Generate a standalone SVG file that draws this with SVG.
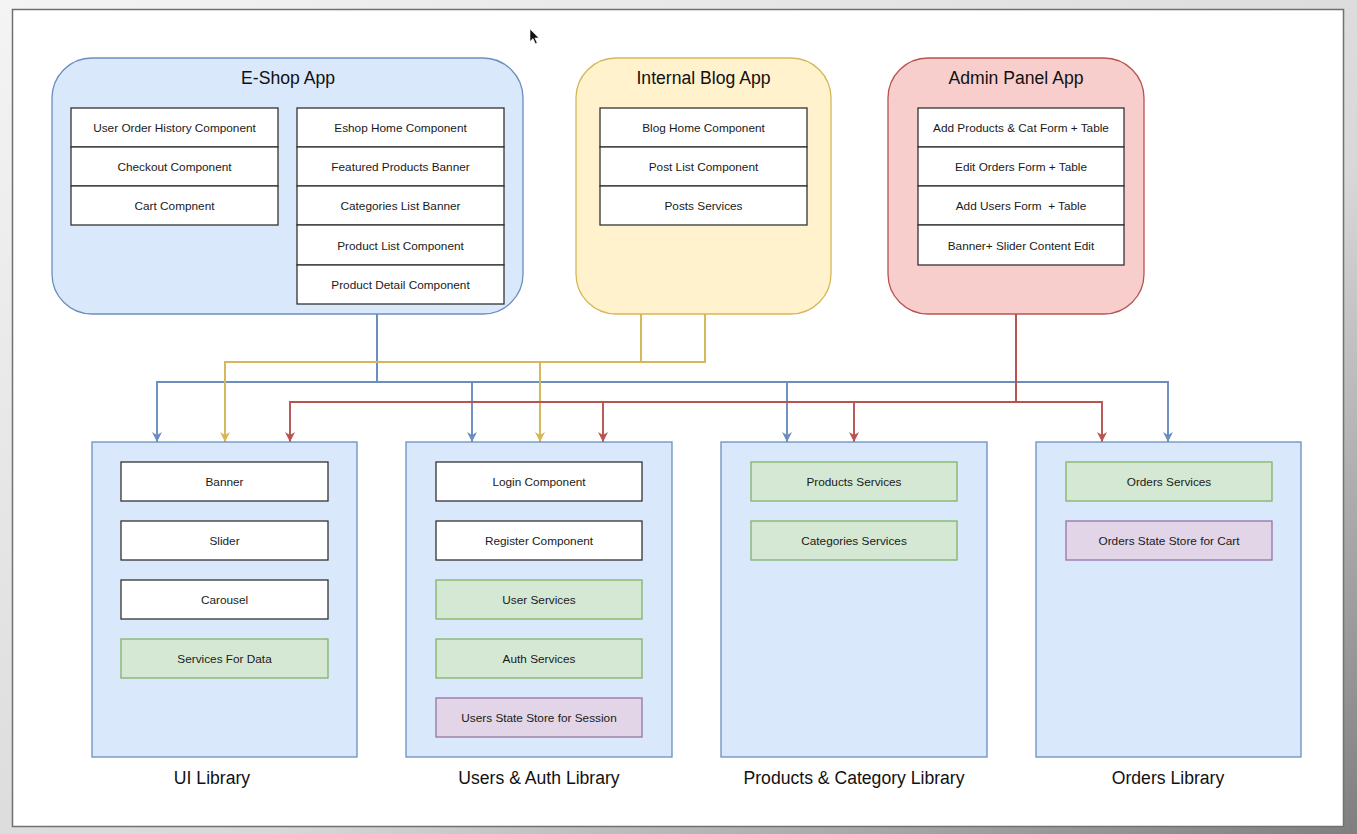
<svg xmlns="http://www.w3.org/2000/svg" width="1357" height="834" viewBox="0 0 1357 834">
  <defs>
    <linearGradient id="bgGrad" x1="0" y1="0" x2="1" y2="1">
      <stop offset="0" stop-color="#f4f4f4"/>
      <stop offset="0.6" stop-color="#d8d8d8"/>
      <stop offset="1" stop-color="#7f7f7f"/>
    </linearGradient>
    <marker id="arrBlue" viewBox="0 0 10 10" refX="10" refY="5" markerWidth="10" markerHeight="10" markerUnits="userSpaceOnUse" orient="auto">
      <path d="M0,0 L10,5 L0,10 L3,5 Z" fill="#6c8ebf"/>
    </marker>
    <marker id="arrYellow" viewBox="0 0 10 10" refX="10" refY="5" markerWidth="10" markerHeight="10" markerUnits="userSpaceOnUse" orient="auto">
      <path d="M0,0 L10,5 L0,10 L3,5 Z" fill="#d6b656"/>
    </marker>
    <marker id="arrRed" viewBox="0 0 10 10" refX="10" refY="5" markerWidth="10" markerHeight="10" markerUnits="userSpaceOnUse" orient="auto">
      <path d="M0,0 L10,5 L0,10 L3,5 Z" fill="#b85450"/>
    </marker>
  </defs>
  <style>
    .app-blue { fill: #dae8fc; stroke: #6c8ebf; stroke-width: 1.3; }
    .app-yellow { fill: #fff2cc; stroke: #d6b656; stroke-width: 1.3; }
    .app-red { fill: #f8cecc; stroke: #b85450; stroke-width: 1.3; }
    .lib { fill: #dae8fc; stroke: #6c8ebf; stroke-width: 1.3; }
    .row { fill: #ffffff; stroke: #333333; stroke-width: 1.3; }
    .svc { fill: #d5e8d4; stroke: #82b366; stroke-width: 1.3; }
    .store { fill: #e1d5e7; stroke: #9673a6; stroke-width: 1.3; }
    .title { font-family: "Liberation Sans", Arial, sans-serif; font-size: 17.6px; fill: #111; text-anchor: middle; }
    .lbl { font-family: "Liberation Sans", Arial, sans-serif; font-size: 11.8px; fill: #1a1a1a; text-anchor: middle; }
    .edge { fill: none; stroke-width: 1.9; }
    .blue { stroke: #6c8ebf; }
    .yellow { stroke: #d6b656; }
    .red { stroke: #b85450; }
  </style>

  <!-- backdrop and page frame -->
  <rect x="0" y="0" width="1357" height="834" fill="url(#bgGrad)"/>
  <rect x="12.5" y="9.5" width="1331" height="817" fill="#ffffff" stroke="#707070" stroke-width="1.5"/>

  <!-- pointer -->
  <path d="M530,29 L530,41.5 L533,38.6 L535.4,43.8 L537.2,43 L534.9,38 L538.8,38 Z" fill="#111" stroke="#fff" stroke-width="0.6"/>

  <!-- connectors -->
  <g id="connectors">
    <path class="edge blue" d="M377,314 V382 H157 V442" marker-end="url(#arrBlue)"/>
    <path class="edge blue" d="M377,314 V382 H472 V442" marker-end="url(#arrBlue)"/>
    <path class="edge blue" d="M377,314 V382 H787 V442" marker-end="url(#arrBlue)"/>
    <path class="edge blue" d="M377,314 V382 H1168 V442" marker-end="url(#arrBlue)"/>
    <path class="edge yellow" d="M641,314 V362 H225 V442" marker-end="url(#arrYellow)"/>
    <path class="edge yellow" d="M705,314 V362 H540 V442" marker-end="url(#arrYellow)"/>
    <path class="edge red" d="M1016,314 V402 H290 V442" marker-end="url(#arrRed)"/>
    <path class="edge red" d="M1016,314 V402 H603 V442" marker-end="url(#arrRed)"/>
    <path class="edge red" d="M1016,314 V402 H854 V442" marker-end="url(#arrRed)"/>
    <path class="edge red" d="M1016,314 V402 H1102 V442" marker-end="url(#arrRed)"/>
  </g>

  <!-- E-Shop App -->
  <g id="eshop-app">
    <rect class="app-blue" x="52" y="58" width="471" height="256" rx="40" ry="40"/>
    <text class="title" x="288" y="84">E-Shop App</text>
    <rect class="row" x="71" y="108" width="207" height="39"/>
    <rect class="row" x="71" y="147" width="207" height="39"/>
    <rect class="row" x="71" y="186" width="207" height="39"/>
    <text class="lbl" x="174.5" y="132">User Order History Component</text>
    <text class="lbl" x="174.5" y="171">Checkout Component</text>
    <text class="lbl" x="174.5" y="210">Cart Compnent</text>
    <rect class="row" x="297" y="108" width="207" height="39"/>
    <rect class="row" x="297" y="147" width="207" height="39"/>
    <rect class="row" x="297" y="186" width="207" height="39"/>
    <rect class="row" x="297" y="225" width="207" height="40"/>
    <rect class="row" x="297" y="265" width="207" height="39"/>
    <text class="lbl" x="400.5" y="132">Eshop Home Component</text>
    <text class="lbl" x="400.5" y="171">Featured Products Banner</text>
    <text class="lbl" x="400.5" y="210">Categories List Banner</text>
    <text class="lbl" x="400.5" y="250">Product List Component</text>
    <text class="lbl" x="400.5" y="289">Product Detail Component</text>
  </g>

  <!-- Internal Blog App -->
  <g id="blog-app">
    <rect class="app-yellow" x="576" y="58" width="255" height="256" rx="40" ry="40"/>
    <text class="title" x="703.5" y="84">Internal Blog App</text>
    <rect class="row" x="600" y="108" width="207" height="39"/>
    <rect class="row" x="600" y="147" width="207" height="39"/>
    <rect class="row" x="600" y="186" width="207" height="39"/>
    <text class="lbl" x="703.5" y="132">Blog Home Component</text>
    <text class="lbl" x="703.5" y="171">Post List Component</text>
    <text class="lbl" x="703.5" y="210">Posts Services</text>
  </g>

  <!-- Admin Panel App -->
  <g id="admin-app">
    <rect class="app-red" x="888" y="58" width="256" height="256" rx="40" ry="40"/>
    <text class="title" x="1016" y="84">Admin Panel App</text>
    <rect class="row" x="918" y="108" width="206" height="39"/>
    <rect class="row" x="918" y="147" width="206" height="39"/>
    <rect class="row" x="918" y="186" width="206" height="39"/>
    <rect class="row" x="918" y="225" width="206" height="40"/>
    <text class="lbl" x="1021" y="132">Add Products &amp; Cat Form + Table</text>
    <text class="lbl" x="1021" y="171">Edit Orders Form + Table</text>
    <text class="lbl" x="1021" y="210" xml:space="preserve">Add Users Form  + Table</text>
    <text class="lbl" x="1021" y="250">Banner+ Slider Content Edit</text>
  </g>

  <!-- UI Library -->
  <g id="ui-library">
    <rect class="lib" x="92" y="442" width="265" height="315"/>
    <rect class="row" x="121" y="462" width="207" height="39"/>
    <rect class="row" x="121" y="521" width="207" height="39"/>
    <rect class="row" x="121" y="580" width="207" height="39"/>
    <rect class="svc" x="121" y="639" width="207" height="39"/>
    <text class="lbl" x="224.5" y="486">Banner</text>
    <text class="lbl" x="224.5" y="545">Slider</text>
    <text class="lbl" x="224.5" y="604">Carousel</text>
    <text class="lbl" x="224.5" y="663">Services For Data</text>
    <text class="title" x="212" y="784">UI Library</text>
  </g>

  <!-- Users & Auth Library -->
  <g id="users-auth-library">
    <rect class="lib" x="406" y="442" width="266" height="315"/>
    <rect class="row" x="436" y="462" width="206" height="39"/>
    <rect class="row" x="436" y="521" width="206" height="39"/>
    <rect class="svc" x="436" y="580" width="206" height="39"/>
    <rect class="svc" x="436" y="639" width="206" height="39"/>
    <rect class="store" x="436" y="698" width="206" height="39"/>
    <text class="lbl" x="539" y="486">Login Component</text>
    <text class="lbl" x="539" y="545">Register Component</text>
    <text class="lbl" x="539" y="604">User Services</text>
    <text class="lbl" x="539" y="663">Auth Services</text>
    <text class="lbl" x="539" y="722">Users State Store for Session</text>
    <text class="title" x="539" y="784">Users &amp; Auth Library</text>
  </g>

  <!-- Products & Category Library -->
  <g id="products-category-library">
    <rect class="lib" x="721" y="442" width="266" height="315"/>
    <rect class="svc" x="751" y="462" width="206" height="39"/>
    <rect class="svc" x="751" y="521" width="206" height="39"/>
    <text class="lbl" x="854" y="486">Products Services</text>
    <text class="lbl" x="854" y="545">Categories Services</text>
    <text class="title" x="854" y="784">Products &amp; Category Library</text>
  </g>

  <!-- Orders Library -->
  <g id="orders-library">
    <rect class="lib" x="1036" y="442" width="265" height="315"/>
    <rect class="svc" x="1066" y="462" width="206" height="39"/>
    <rect class="store" x="1066" y="521" width="206" height="39"/>
    <text class="lbl" x="1169" y="486">Orders Services</text>
    <text class="lbl" x="1169" y="545">Orders State Store for Cart</text>
    <text class="title" x="1168" y="784">Orders Library</text>
  </g>
</svg>
